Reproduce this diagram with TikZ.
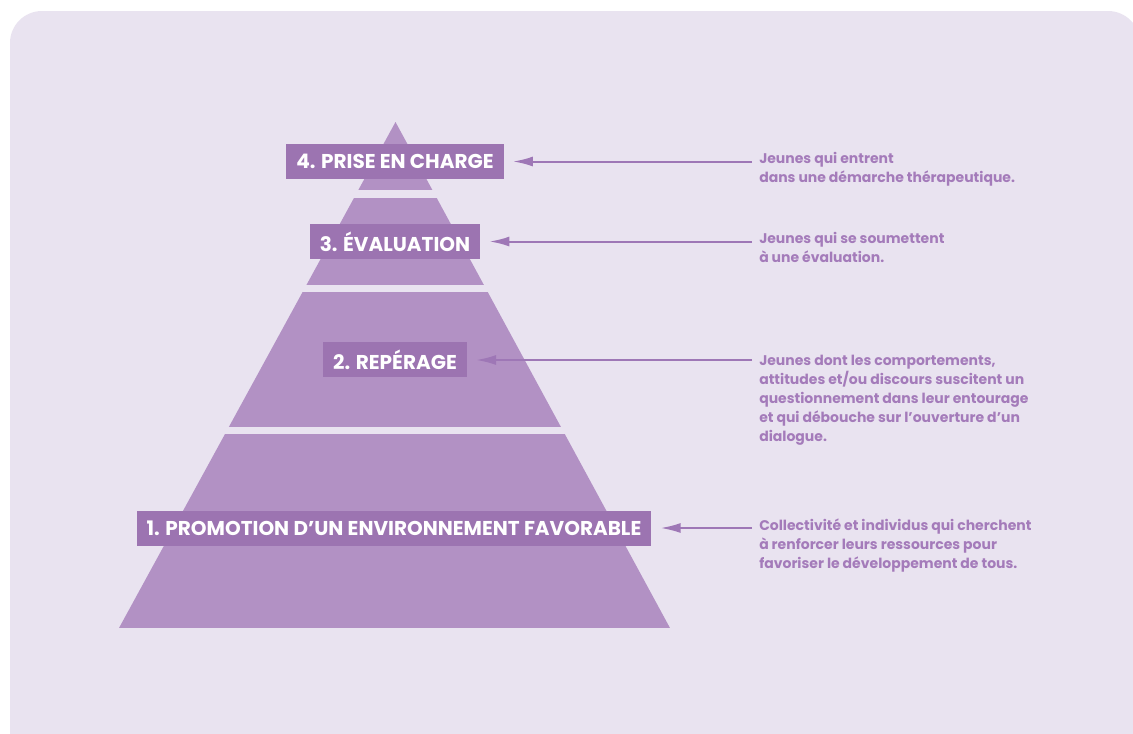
\documentclass[tikz,border=0pt]{standalone}
\usepackage{fontspec}
\setmainfont{Poppins}
\usepackage{tikz}
\usetikzlibrary{arrows.meta, positioning}

\begin{document}
\begin{tikzpicture}[x=0.75pt, y=-0.75pt,
    stage/.style={fill=boxpurple, text=white, inner xsep=7.5pt, inner ysep=0pt,
      minimum height=26.25pt, font=\bfseries\fontsize{15}{18}\selectfont},
    note/.style={anchor=base west, align=left, inner sep=0pt, text=notepurple,
      font=\bfseries\fontsize{10.5}{14.4}\selectfont},
    pointer/.style={draw=arrowpurple, line width=1.5pt, shorten >=6.75pt,
      -{Latex[length=15pt, width=7.5pt]}}]
    % Colors
    \definecolor{bgpurple}{RGB}{233, 227, 240}
    \definecolor{pyrpurple}{RGB}{178, 145, 196}
    \definecolor{boxpurple}{RGB}{156, 116, 177}
    \definecolor{arrowpurple}{RGB}{158, 119, 182}
    \definecolor{notepurple}{RGB}{164, 123, 186}

    \useasboundingbox (0,0) rectangle (1133,733);
    \clip (0,0) rectangle (1133,733);
    \fill[white] (0,0) rectangle (1133,733);

    % Background card
    \fill[bgpurple, rounded corners=24pt] (10,11) rectangle (1140,780);

    % Pyramid, cut into four layers
    \begin{scope}
      \clip (395.5,122) -- (670,628) -- (119,628) -- cycle;
      \fill[pyrpurple] (100,110) rectangle (700,190);
      \fill[pyrpurple] (100,198) rectangle (700,285);
      \fill[pyrpurple] (100,292) rectangle (700,427);
      \fill[pyrpurple] (100,434) rectangle (700,628);
    \end{scope}

    % Level labels
    \node[stage] (prise) at (395,161) {4. PRISE EN CHARGE};
    \node[stage] (evaluation) at (395,241.5) {3. ÉVALUATION};
    \node[stage] (reperage) at (395,359.5) {2. REPÉRAGE};
    \node[stage] (promotion) at (394,528.5) {1. PROMOTION D’UN ENVIRONNEMENT FAVORABLE};

    % Descriptions (placed at the baseline of their last line)
    \node[note] (jeunes4) at (759,182.5) {Jeunes qui entrent\\dans une démarche thérapeutique.};
    \node[note] (jeunes3) at (759,262.5) {Jeunes qui se soumettent\\à une évaluation.};
    \node[note] (jeunes2) at (759,441.8) {Jeunes dont les comportements,\\attitudes et/ou discours suscitent un\\questionnement dans leur entourage\\et qui débouche sur l’ouverture d’un\\dialogue.};
    \node[note] (collectivite) at (759,568.4) {Collectivité et individus qui cherchent\\à renforcer leurs ressources pour\\favoriser le développement de tous.};

    % Arrows from descriptions to levels
    \coordinate (from4) at (752,161.5);
    \coordinate (from3) at (752,241.5);
    \coordinate (from2) at (752,360);
    \coordinate (from1) at (752,528);
    \draw[pointer] (from4) -- (from4 -| prise.east);
    \draw[pointer] (from3) -- (from3 -| evaluation.east);
    \draw[pointer] (from2) -- (from2 -| reperage.east);
    \draw[pointer] (from1) -- (from1 -| promotion.east);
\end{tikzpicture}
\end{document}
